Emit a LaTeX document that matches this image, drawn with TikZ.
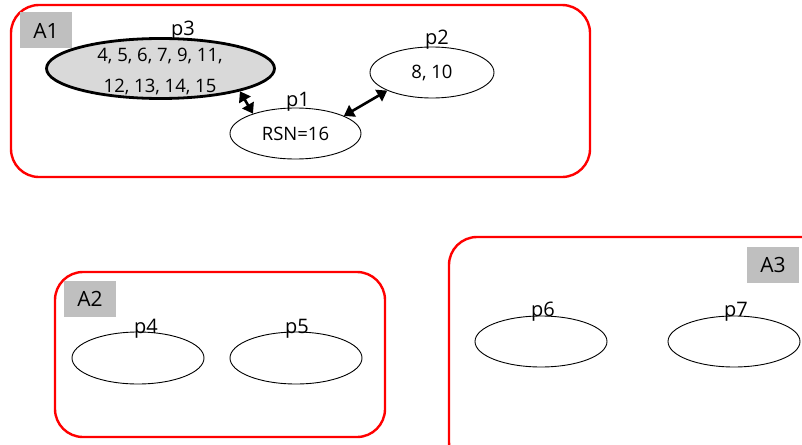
\documentclass[tikz,border=0pt]{standalone}
\usepackage{fontspec}
\setmainfont{Open Sans}
\usetikzlibrary{shapes.geometric,arrows.meta}
\definecolor{boxred}{RGB}{255,0,0}
\definecolor{lblgray}{RGB}{191,191,191}
\definecolor{fillgray}{RGB}{217,217,217}
\tikzset{
  area/.style={draw=boxred, line width=2.4pt, rounded corners=28pt},
  arealbl/.style={fill=lblgray, minimum width=52pt, minimum height=36pt, inner sep=0pt, font=\fontsize{21}{24}\selectfont},
  proc/.style={draw, ellipse, line width=0.9pt, inner sep=0pt, align=center, font=\fontsize{18.5}{21}\selectfont},
  numtxt/.style={anchor=base, inner sep=0pt, font=\fontsize{18.5}{21}\selectfont},
  plbl/.style={anchor=base, inner sep=0pt, font=\fontsize{20}{22}\selectfont},
  link/.style={line width=2.6pt, {Triangle[length=10pt,width=13pt]}-{Triangle[length=10pt,width=13pt]}}
}
\begin{document}
\begin{tikzpicture}[x=1pt,y=-1pt]
\clip (0,0) rectangle (802,444);
\fill[white] (0,0) rectangle (802,444);
% areas
\draw[area] (11,5) rectangle (590,177);
\draw[area] (55,272) rectangle (385,437);
\draw[area] (449,237) rectangle (830,470);
\node[arealbl] (A1) at (46,30.5) {A1};
\node[arealbl] (A2) at (90,299) {A2};
\node[arealbl] (A3) at (773,264.5) {A3};
% processes
\node[proc, fill=fillgray, line width=2.8pt, minimum width=228pt, minimum height=60pt] (p3) at (160.5,68.5) {};
\node[numtxt] (p3a) at (160,61) {4, 5, 6, 7, 9, 11,};
\node[numtxt] (p3b) at (160,92) {12, 13, 14, 15};
\node[proc, minimum width=131pt, minimum height=51pt] (p1) at (295.5,133.5) {RSN=16};
\node[proc, minimum width=124pt, minimum height=51pt] (p2) at (432,72.5) {8, 10};
\node[proc, minimum width=132pt, minimum height=52pt] (p4) at (138,358) {};
\node[proc, minimum width=132pt, minimum height=52pt] (p5) at (296,358) {};
\node[proc, minimum width=132pt, minimum height=51pt] (p6) at (541,341.5) {};
\node[proc, minimum width=132pt, minimum height=51pt] (p7) at (734,341.5) {};
% labels
\node[plbl] (l3) at (183,36) {p3};
\node[plbl] (l1) at (298,106) {p1};
\node[plbl] (l2) at (437,45) {p2};
\node[plbl] (l4) at (146,333) {p4};
\node[plbl] (l5) at (297,333) {p5};
\node[plbl] (l6) at (543,316) {p6};
\node[plbl] (l7) at (736,316) {p7};
% links
\draw[link] (p3.-16) -- (p1.155);
\draw[link] (p1.20) -- (p2.-158);
\end{tikzpicture}
\end{document}
